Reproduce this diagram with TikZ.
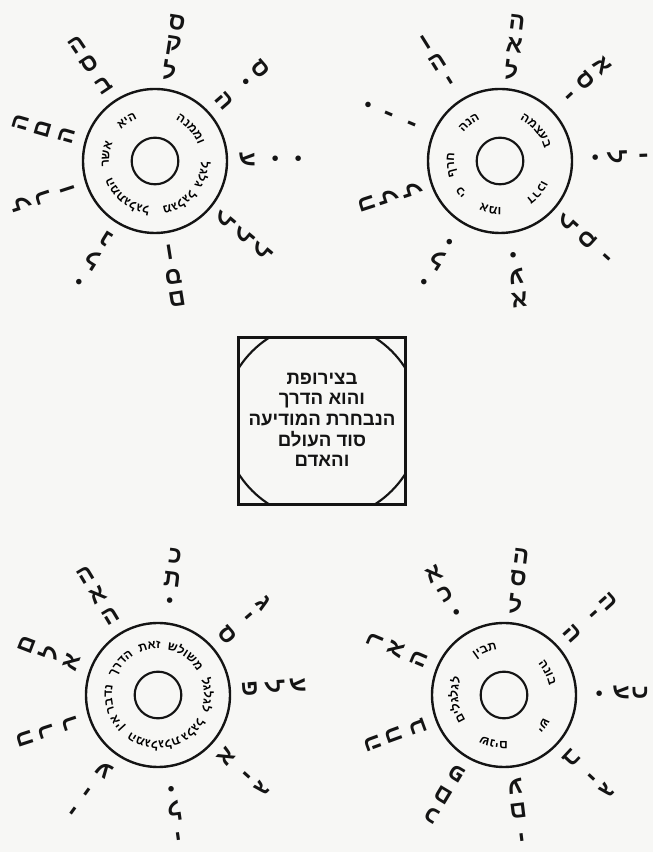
\documentclass[tikz,border=0pt]{standalone}
\usepackage{fontspec}
\newfontfamily\hebfont[Script=Hebrew]{Liberation Sans}
\TeXXeTstate=1
\usetikzlibrary{calc}
\usetikzlibrary{decorations.text}

\definecolor{ink}{HTML}{141414}
\definecolor{paper}{HTML}{F7F7F5}

\newcommand{\heb}[1]{\beginR #1\endR}
\newcommand{\dotmark}{\raisebox{0.25ex}{\Large •}}

\begin{document}
\begin{tikzpicture}[
    x=0.75pt, y=0.75pt,
    % Define the style for the wheels
    ring/.style={circle, draw=ink, line width=1.8pt, minimum size=108pt, inner sep=0pt},
    hub/.style={circle, draw=ink, line width=1.6pt, minimum size=35pt, inner sep=0pt},
    % Define the style for the letters on the spokes
    letter/.style={text=ink, font=\hebfont\bfseries\fontsize{18}{18}\selectfont, inner sep=0pt},
    % words inside a ring, given in reverse order (they run clockwise)
    ringtext/.style={decorate, text=ink, decoration={text along path, text align=center,
        text/.expanded={|\noexpand\hebfont\noexpand\bfseries\noexpand\small|#1}}},
    motto/.style={text=ink, align=center, font=\hebfont\bfseries\fontsize{14}{15.5}\selectfont}
]

    \fill[paper] (0,0) rectangle (653,852);
    \useasboundingbox (0,0) rectangle (653,852);

    % --- Configuration ---
    \def\ra{92} % radius of the first letter of a spoke
    \def\rb{117}
    \def\rc{140}
    \def\rw{46} % radius of the baseline of the words inside the ring

    % --- Top left wheel ---
    \node[ring] (tl) at (155,691) {};
    \node[hub] (tl-hub) at (tl) {};
    \foreach \ang/\a/\b/\c [count=\i] in {81/ל/ק/ס, 41/ה/\dotmark/ס, 1/ע/\dotmark/\dotmark,
        -40/ל/ל/ל, -81/ו/ס/ם, -122/נ/ל/\dotmark, -162/ו/ר/ל, 164/ה/ם/ה, 124/ב/ס/ה} {
        \node[letter, rotate=\ang-90] (tl-\i-a) at ($(tl)+(\ang:\ra)$) {\a};
        \node[letter, rotate=\ang-90] (tl-\i-b) at ($(tl)+(\ang:\rb)$) {\b};
        \node[letter, rotate=\ang-90] (tl-\i-c) at ($(tl)+(\ang:\rc)$) {\c};
    }
    \foreach \ang/\w in {125/איה, 172/רשא, 42/הנממו, -16/לגלג, -60/לגלגמ, -128/לגלגתמה} {
        \path[ringtext=\w] ($(tl)+(\ang+45:\rw)$) arc[start angle=\ang+45, end angle=\ang-45, radius=\rw];
    }

    % --- Top right wheel ---
    \node[ring] (tr) at (500,691) {};
    \node[hub] (tr-hub) at (tr) {};
    \foreach \ang/\a/\b/\c [count=\i] in {83/ל/א/ה, 43/י/ס/א, 2/\dotmark/ל/י,
        -42/ל/ס/י, -82/\dotmark/ע/א, -122/\dotmark/ל/\dotmark, -162/ל/ל/ח, 157/י/י/\dotmark, 122/י/ה/ו} {
        \node[letter, rotate=\ang-90] (tr-\i-a) at ($(tr)+(\ang:\ra)$) {\a};
        \node[letter, rotate=\ang-90] (tr-\i-b) at ($(tr)+(\ang:\rb)$) {\b};
        \node[letter, rotate=\ang-90] (tr-\i-c) at ($(tr)+(\ang:\rc)$) {\c};
    }
    \foreach \ang/\w in {129/הנה, 40/המצעב, 185/ףרח, -141/יכ, -101/ומא, -40/וכרד} {
        \path[ringtext=\w] ($(tr)+(\ang+45:\rw)$) arc[start angle=\ang+45, end angle=\ang-45, radius=\rw];
    }

    % --- Middle: the square seal ---
    \node[draw=ink, line width=2.2pt, minimum size=125pt, inner sep=0pt] (seal) at (322,431) {};
    \begin{scope}
        \clip (seal.south west) rectangle (seal.north east);
        \node[circle, draw=ink, line width=1.6pt, minimum size=148pt] (seal-ring) at (seal) {};
    \end{scope}
    \node[motto] (seal-text) at (322,432) {\heb{בצירופת}\\ \heb{והוא הדרך}\\
        \heb{הנבחרת המודיעה}\\ \heb{סוד העולם}\\ \heb{והאדם}};

    % --- Bottom left wheel ---
    \node[ring] (bl) at (158,157) {};
    \node[hub] (bl-hub) at (bl) {};
    \foreach \ang/\a/\b/\c [count=\i] in {83/\dotmark/ת/כ, 41/ס/י/ג, 4/פ/ל/ע,
        -42/א/י/ג, -82/\dotmark/ל/י, -126/ע/י/י, -162/ר/ר/ח, 159/א/ל/ם, 121/ה/א/ה} {
        \node[letter, rotate=\ang-90] (bl-\i-a) at ($(bl)+(\ang:\ra)$) {\a};
        \node[letter, rotate=\ang-90] (bl-\i-b) at ($(bl)+(\ang:\rb)$) {\b};
        \node[letter, rotate=\ang-90] (bl-\i-c) at ($(bl)+(\ang:\rc)$) {\c};
    }
    \foreach \ang/\w in {55/שלושמ, 100/תאז, 140/ךרדה, 185/רבדנ, -145/ןיא, -95/תלגלגמה,
        -45/לגלג, 0/לגלגל} {
        \path[ringtext=\w] ($(bl)+(\ang+45:\rw)$) arc[start angle=\ang+45, end angle=\ang-45, radius=\rw];
    }

    % --- Bottom right wheel ---
    % (the last field is the radius of the outer letter; the right spoke sits near the edge)
    \node[ring] (br) at (504,157) {};
    \node[hub] (br-hub) at (br) {};
    \foreach \ang/\a/\b/\c/\rr [count=\i] in {83/ל/ס/ה/140, 42/ה/י/ה/140, 1/\dotmark/ע/כ/136,
        -43/ב/י/ג/140, -83/ע/ם/י/140, -121/פ/ם/כ/140, -160/ב/ח/ה/140, 157/ה/א/ר/140, 120/\dotmark/כ/א/140} {
        \node[letter, rotate=\ang-90] (br-\i-a) at ($(br)+(\ang:\ra)$) {\a};
        \node[letter, rotate=\ang-90] (br-\i-b) at ($(br)+(\ang:\rb)$) {\b};
        \node[letter, rotate=\ang-90] (br-\i-c) at ($(br)+(\ang:\rr)$) {\c};
    }
    \foreach \ang/\w in {113/ןיבת, 27/הנוב, -38/שי, -102/םינש, 186/םילגלגל} {
        \path[ringtext=\w] ($(br)+(\ang+45:\rw)$) arc[start angle=\ang+45, end angle=\ang-45, radius=\rw];
    }

\end{tikzpicture}
\end{document}
